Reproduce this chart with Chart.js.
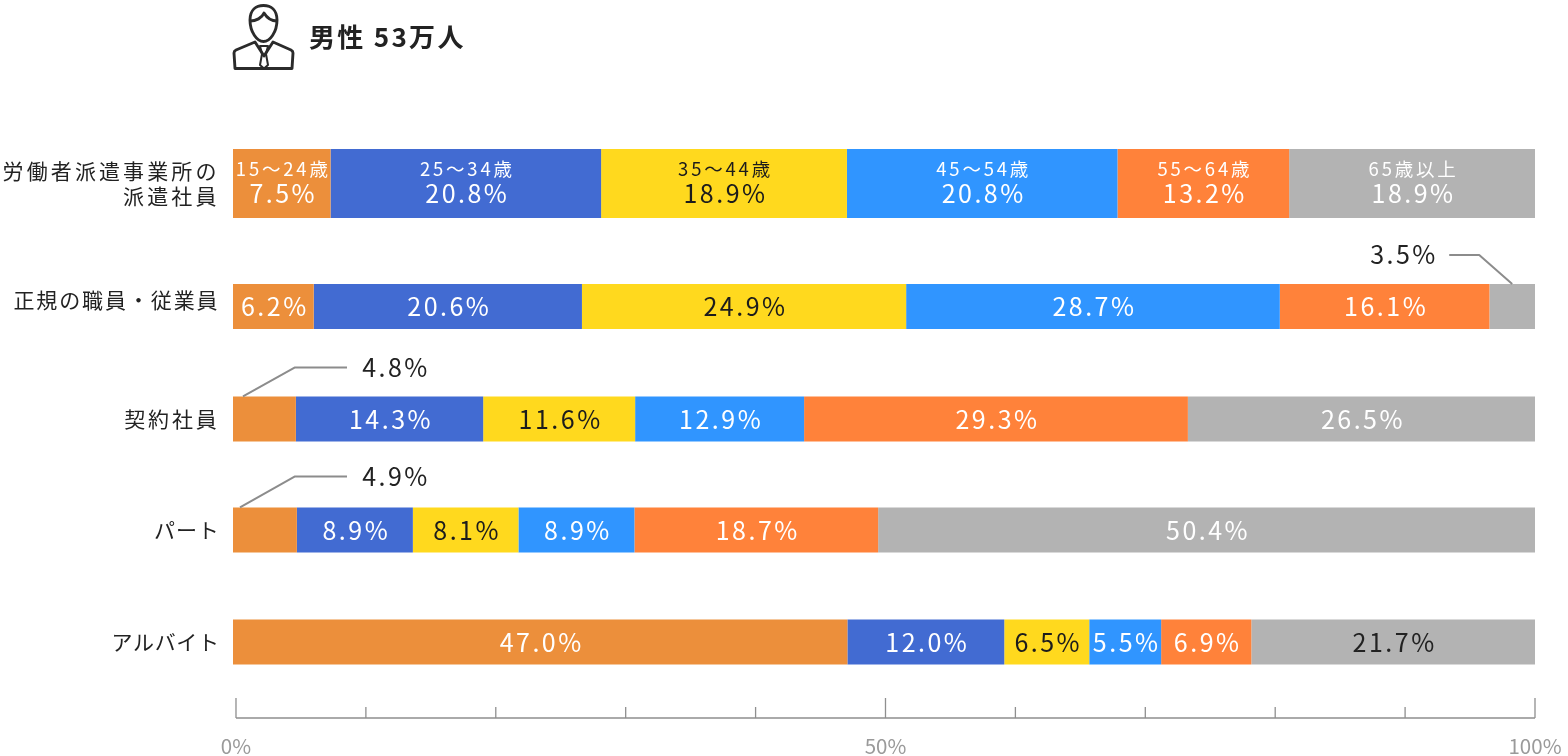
<!DOCTYPE html>
<html lang="ja">
<head>
<meta charset="utf-8">
<title>男性 53万人</title>
<script src="https://cdn.jsdelivr.net/npm/chart.js@4/dist/chart.umd.min.js"></script>
<style>
  html, body { margin: 0; padding: 0; background: #fff; }
  #wrap { position: relative; width: 1568px; height: 756px; overflow: hidden; }
  #grafico { position: absolute; left: 0; top: 0; }
  #icono { position: absolute; left: 0; top: 0; }
  #titulo {
    position: absolute; left: 309px; top: 17px; line-height: 38px;
    font: bold 26px "Noto Sans CJK JP", sans-serif; letter-spacing: 2.3px; color: #222;
  }
</style>
</head>
<body>
<div id="wrap">
  <canvas id="grafico" width="1568" height="756"></canvas>
  <svg id="icono" width="320" height="80" fill="none" stroke="#2b2b2b" stroke-width="2.9" stroke-linejoin="round">
    <path d="M250,20 C250,10 256,5.500 263.500,5.500 C271,5.500 277,10 277,20 C277,32 270,41.500 263.500,41.500 C257,41.500 250,32 250,20 Z"/>
    <path d="M250,21 C256,21 262,18 264,13 C267,18 272,21 277,21"/>
    <path d="M235,68.500 L234,53 Q234,51 236,50 L255,42 L264,56 L273,42 L291,50 Q293,51 293,53 L292,68.500 Z"/>
    <path d="M260,46 L268,46 L266,54 L268,65 L264,68.500 L260,65 L262,54 Z" stroke-width="2"/>
  </svg>
  <div id="titulo">男性 53万人</div>
</div>
<script>
// Categorias y valores
const categorias = [["労働者派遣事業所の", "派遣社員"], ["正規の職員・従業員"], ["契約社員"], ["パート"], ["アルバイト"]];
const rowPos = [0, 1.098, 2.103, 3.094, 4.094];
const bandas = ["15〜24歳", "25〜34歳", "35〜44歳", "45〜54歳", "55〜64歳", "65歳以上"];

const edad15 = [7.5, 6.2, 4.8, 4.9, 47.0];
const edad25 = [20.8, 20.6, 14.3, 8.9, 12.0];
const edad35 = [18.9, 24.9, 11.6, 8.1, 6.5];
const edad45 = [20.8, 28.7, 12.9, 8.9, 5.5];
const edad55 = [13.2, 16.1, 29.3, 18.7, 6.9];
const edad65 = [18.9, 3.5, 26.5, 50.4, 21.7];
const series = [edad15, edad25, edad35, edad45, edad55, edad65];

const colores = ["#ec8f3b", "#426bd2", "#ffd91e", "#3095ff", "#ff823a", "#b3b3b3"];
const ticksEje = [0, 10, 20, 30, 40, 50, 60, 70, 80, 90, 100];
const ticksLargos = [0, 50, 100];

const fuente = '"Noto Sans CJK JP", sans-serif';
const espaciado = ["3.1px", "1.9px", "2.8px", "0.8px", "0.6px"];  // kana mas apretado
const ajusteY = [0, -6, 0, 0, 0];

// cada fila se lleva a 100% (las etiquetas no siempre suman 100)
const totalFila = categorias.map((c, r) => series.reduce((s, v) => s + v[r], 0));
const punto = (v, r) => ({ x: v[r] / totalFila[r] * 100, y: rowPos[r] });

// La primera fila es mas alta: dos datasets por banda
const datasets = [];
series.forEach((v, b) => {
  datasets.push({ banda: b, filas: [0], data: [punto(v, 0)], backgroundColor: colores[b], barThickness: 69, stack: "s", borderWidth: 0, inflateAmount: 0 });
  datasets.push({ banda: b, filas: [1, 2, 3, 4], data: [1, 2, 3, 4].map(r => punto(v, r)), backgroundColor: colores[b], barThickness: 45, stack: "s", borderWidth: 0, inflateAmount: 0 });
});

// Etiquetas con linea guia: fuera de la barra
const guias = [
  { banda: 5, fila: 1, texto: "3.5%" },
  { banda: 0, fila: 2, texto: "4.8%" },
  { banda: 0, fila: 3, texto: "4.9%" }
];

function colorTexto(b, r) {
  if (b === 2) return "#1c1c1c";
  if (b === 5 && r === 4) return "#222";
  return "#fff";
}

const etiquetas = {
  id: "etiquetas",
  afterDatasetsDraw(chart) {
    const c = chart.ctx;
    c.save();
    c.textAlign = "center";
    c.textBaseline = "middle";
    c.letterSpacing = "2.5px";
    chart.data.datasets.forEach((ds, i) => {
      const meta = chart.getDatasetMeta(i);
      ds.filas.forEach((r, k) => {
        const el = meta.data[k];
        const cx = (el.x + el.base) / 2 + 1.5;
        if (guias.some(g => g.banda === ds.banda && g.fila === r)) return;
        c.fillStyle = colorTexto(ds.banda, r);
        if (r === 0) {
          c.font = "18.5px " + fuente;
          c.letterSpacing = "2.8px";
          c.fillText(bandas[ds.banda], cx, el.y - 14.5);
          c.letterSpacing = "2.5px";
          c.font = "25px " + fuente;
          c.fillText(series[ds.banda][r].toFixed(1) + "%", cx, el.y + 10.5);
        } else {
          c.font = "25px " + fuente;
          c.fillText(series[ds.banda][r].toFixed(1) + "%", cx, el.y + 0.5);
        }
      });
    });
    // lineas guia
    guias.forEach(g => {
      const idx = g.banda * 2 + 1;
      const el = chart.getDatasetMeta(idx).data[g.fila - 1];
      const arriba = el.y - 22.5;
      const derecha = g.banda === 5;
      const alto = g.fila === 3 ? 31 : 29;
      const lineaY = arriba - alto;
      c.strokeStyle = "#8c8c8c";
      c.lineWidth = 2;
      c.lineJoin = "round";
      c.beginPath();
      if (derecha) {
        const fin = (el.x + el.base) / 2;
        c.moveTo(fin - 63, lineaY);
        c.lineTo(fin - 33, lineaY);
        c.lineTo(fin, arriba);
      } else {
        c.moveTo(347, lineaY);
        c.lineTo(295, lineaY);
        c.lineTo(el.base + (g.fila === 3 ? 7 : 10), arriba);
      }
      c.stroke();
      c.fillStyle = "#222";
      c.font = "25px " + fuente;
      c.fillText(g.texto, derecha ? 1404 : 396, lineaY);
    });
    // categorias
    c.textAlign = "right";
    c.fillStyle = "#222";
    c.font = "21px " + fuente;
    const ejeY = chart.scales.y;
    categorias.forEach((lineas, r) => {
      c.letterSpacing = espaciado[r];
      const y0 = ejeY.getPixelForValue(rowPos[r]) + ajusteY[r] - (lineas.length - 1) * 12.5;
      lineas.forEach((t, i) => c.fillText(t, 219.5, y0 + i * 25));
    });
    c.restore();
    c.letterSpacing = "1.5px";   // labels del eje inferior
  },
  afterDraw(chart) {
    const c = chart.ctx;
    const eje = chart.scales.x2;
    const base = chart.chartArea.bottom;
    c.save();
    c.strokeStyle = "#8f8f8f";
    c.lineWidth = 1.3;
    c.beginPath();
    c.moveTo(eje.getPixelForValue(0), base);
    c.lineTo(eje.getPixelForValue(100), base);
    ticksEje.forEach(t => {
      const x = eje.getPixelForValue(t);
      c.moveTo(x, base);
      c.lineTo(x, base - (ticksLargos.includes(t) ? 20 : 11));
    });
    c.stroke();
    c.restore();
    c.letterSpacing = "0px";
  }
};

const ctx = document.getElementById("grafico").getContext("2d");

new Chart(ctx, {
  type: "bar",
  data: { datasets },
  plugins: [etiquetas],
  options: {
    indexAxis: "y",
    responsive: false,
    animation: false,
    layout: { padding: { left: 0, right: 33, top: 0, bottom: 0 } },
    plugins: { legend: { display: false }, tooltip: { enabled: false }, title: { display: false } },
    scales: {
      x: { type: "linear", display: false, stacked: true, min: 0, max: 100 },
      x2: {
        type: "linear",
        position: "bottom",
        min: -0.23,
        max: 100,
        z: 1,
        grid: { display: false },
        border: { display: false },
        afterBuildTicks(scale) { scale.ticks = ticksEje.map(v => ({ value: v })); },
        afterFit(scale) { scale.height = 38; scale.paddingLeft = 0; scale.paddingRight = 0; },
        ticks: {
          autoSkip: false,
          maxRotation: 0,
          padding: 8,
          color: "#9a9a9a",
          font: { family: fuente, size: 20.5 },
          callback: v => ticksLargos.includes(v) ? v + "%" : ""
        }
      },
      y: {
        type: "linear",
        reverse: true,
        stacked: true,
        offset: false,
        min: -1.638,
        max: 4.773,
        grid: { display: false, drawTicks: false },
        border: { display: false },
        afterFit(scale) { scale.width = 233; scale.paddingTop = 0; scale.paddingBottom = 0; },
        ticks: { display: false }
      }
    }
  }
});
</script>
</body>
</html>
